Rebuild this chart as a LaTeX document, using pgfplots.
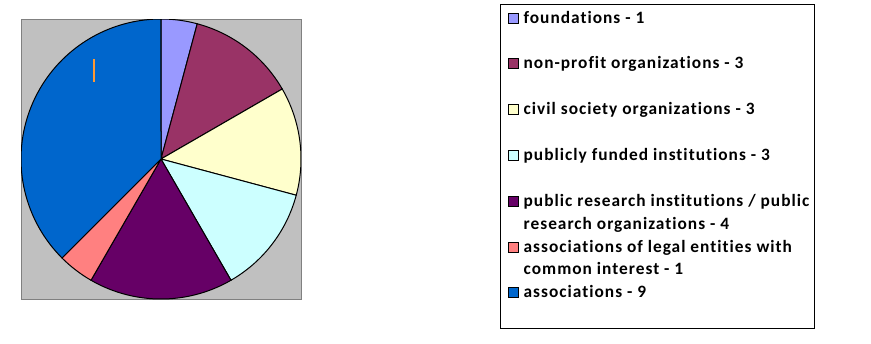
\documentclass[border=0pt]{standalone}
\usepackage{pgfplots}
\pgfplotsset{compat=1.18}
\usepackage{pgfplotstable}
\usepackage{fontspec}
\setmainfont{Carlito}
\newfontfamily\legfont{Carlito}[LetterSpace=5.8, Ligatures=NoCommon]

\definecolor{cFound}{HTML}{9999FF}
\definecolor{cNonprofit}{HTML}{993366}
\definecolor{cCivil}{HTML}{FFFFCC}
\definecolor{cPubFund}{HTML}{CCFFFF}
\definecolor{cPubRes}{HTML}{660066}
\definecolor{cLegal}{HTML}{FF8080}
\definecolor{cAssoc}{HTML}{0066CC}
\definecolor{cPlot}{HTML}{C0C0C0}
\definecolor{cFrame}{HTML}{808080}
\definecolor{cOrange}{HTML}{FF9933}

% slice values (clockwise from 12 o'clock)
\pgfplotstableread{
value
1
3
3
3
4
1
9
}\piedata

\def\piecum{0}
\foreach \i in {0,...,6}{%
  \pgfplotstablegetelem{\i}{value}\of\piedata
  \pgfmathsetmacro\tmpA{\piecum}%
  \pgfmathsetmacro\tmpB{\piecum+\pgfplotsretval}%
  \expandafter\xdef\csname pieA\i\endcsname{\tmpA}%
  \expandafter\xdef\csname pieB\i\endcsname{\tmpB}%
  \xdef\piecum{\tmpB}%
}

\newcommand\pieslice[2]{%
  \pgfmathsetmacro\angA{360*\csname pieA#1\endcsname/\piecum}%
  \pgfmathsetmacro\angB{360*\csname pieB#1\endcsname/\piecum}%
  \edef\doplot{\noexpand\addplot[fill=#2, draw=black, line width=0.75pt,
      domain=\angA:\angB, samples=80] ({sin(x)},{cos(x)}) -- (axis cs:0,0) -- cycle;}%
  \doplot
}

\begin{document}
\begin{tikzpicture}
\path[use as bounding box] (0pt,0pt) rectangle (653.25pt,-257.25pt);
\begin{axis}[
  at={(120.75pt,-119.25pt)}, anchor=center,
  scale only axis, width=210pt, height=210pt,
  xmin=-1, xmax=1, ymin=-1, ymax=1,
  ticks=none,
  axis line style={draw=cFrame, line width=0.75pt},
  axis background/.style={fill=cPlot},
  legend cell align=left,
  legend style={at={(1.7107,1.0536)}, anchor=north west, draw=black,
    line width=1pt, fill=white, inner xsep=5.25pt, inner ysep=1.3pt,
    row sep=0pt, column sep=3.75pt,
    font=\fontsize{13pt}{17pt}\legfont\bfseries,
    nodes={inner sep=0pt, text height=12.6pt, text depth=21.75pt}},
  legend image code/.code={\draw[#1, draw=black, line width=0.75pt] (0pt,4.575pt) rectangle (7.5pt,12.075pt);},
]
\pieslice{0}{cFound}
\addlegendentry{\parbox[t]{213pt}{foundations - 1}}
\pieslice{1}{cNonprofit}
\addlegendentry{\parbox[t]{213pt}{non-profit organizations - 3}}
\pieslice{2}{cCivil}
\addlegendentry{\parbox[t]{213pt}{civil society organizations - 3}}
\pieslice{3}{cPubFund}
\addlegendentry{\parbox[t]{213pt}{publicly funded institutions - 3}}
\pieslice{4}{cPubRes}
\addlegendentry{\parbox[t]{213pt}{\mbox{public research institutions / public}\\\mbox{research organizations - 4}}}
\pieslice{5}{cLegal}
\addlegendentry{\parbox[t]{213pt}{\mbox{associations of legal entities with}\\\mbox{common interest - 1}}}
\pieslice{6}{cAssoc}
\addlegendentry{\parbox[t]{213pt}{associations - 9}}
\addplot[forget plot, cOrange, line width=1pt] coordinates {(-0.479,0.714) (-0.479,0.55)};
\end{axis}
\end{tikzpicture}
\end{document}
